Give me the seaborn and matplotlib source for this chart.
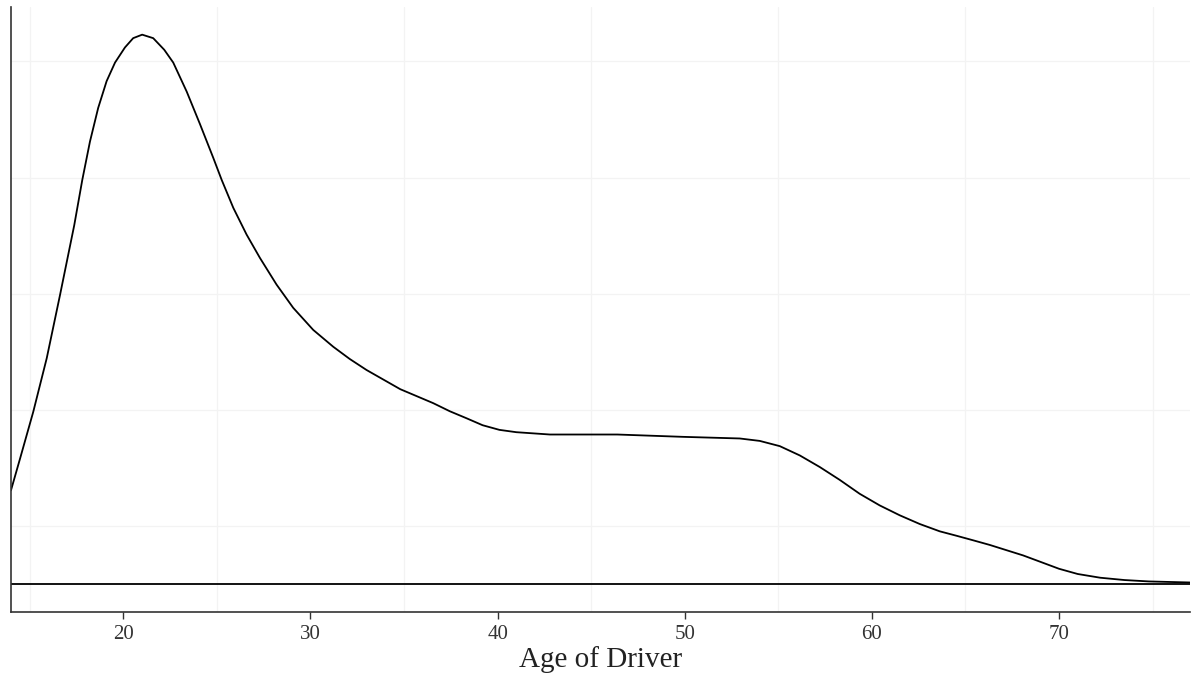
import numpy as np
import pandas as pd
import matplotlib.pyplot as plt
from matplotlib.ticker import MultipleLocator, NullFormatter
import seaborn as sns

# Density of driver age
age = [14.0, 14.48, 15.19, 15.91, 16.62, 17.38, 17.81, 18.22, 18.66, 19.11,
       19.56, 20.09, 20.53, 21.01, 21.6, 22.19, 22.67, 23.39, 24.1, 24.81,
       25.26, 25.88, 26.59, 27.3, 28.19, 29.08, 30.15, 31.22, 32.1, 33.0,
       34.8, 36.56, 37.45, 38.34, 39.2, 40.1, 41.0, 42.8, 46.4, 49.9,
       52.94, 54.01, 55.08, 56.15, 57.22, 58.28, 59.35, 60.42, 61.49, 62.56,
       63.63, 64.5, 65.41, 66.3, 67.19, 68.08, 69.0, 70.0, 71.0, 72.2,
       73.5, 74.8, 77.0]
density = [0.0081, 0.0108, 0.01485, 0.01946, 0.0249, 0.0309, 0.0348, 0.0381, 0.0410, 0.0433,
           0.0449, 0.0462, 0.0470, 0.0473, 0.0470, 0.0460, 0.0449, 0.0424, 0.0396, 0.0367,
           0.0348, 0.0324, 0.0301, 0.0281, 0.0258, 0.0238, 0.0219, 0.02045, 0.0194, 0.01845,
           0.0168, 0.0156, 0.0149, 0.0143, 0.0137, 0.0133, 0.0131, 0.0129, 0.0129, 0.0127,
           0.01256, 0.01235, 0.0119, 0.0111, 0.0101, 0.0090, 0.0078, 0.0068, 0.00595, 0.0052,
           0.00457, 0.0042, 0.0038, 0.0034, 0.00295, 0.0025, 0.00195, 0.00135, 0.0009, 0.00058,
           0.00038, 0.00026, 0.00017]

df = pd.DataFrame({'age': age, 'density': density})

sns.set_theme(style='white')
plt.rcParams['font.family'] = ['Liberation Serif', 'DejaVu Serif']

fig = plt.figure(figsize=(11.93, 6.77), dpi=100)
ax = fig.add_axes([0.0092, 0.096, 0.9883, 0.894])

sns.lineplot(data=df, x='age', y='density', color='black', linewidth=1.3, ax=ax)
ax.axhline(0, color='black', linewidth=1.3)

ax.set_xlim(14.0, 77.0)
ax.set_ylim(-0.00237, 0.0497)

# faint gridlines only at the minor positions
ax.xaxis.set_major_locator(MultipleLocator(10))
ax.xaxis.set_minor_locator(MultipleLocator(10, offset=5))
ax.yaxis.set_major_locator(MultipleLocator(0.01))
ax.yaxis.set_minor_locator(MultipleLocator(0.01, offset=0.005))
ax.xaxis.set_minor_formatter(NullFormatter())
ax.set_yticklabels([])
ax.grid(which='minor', color='#f3f3f3', linewidth=0.9)
ax.grid(which='major', visible=False)

ax.tick_params(axis='x', which='major', bottom=True, length=5, width=1, color='#333333',
               labelsize=15, labelcolor='#333333', pad=4)
ax.tick_params(axis='x', which='minor', bottom=False)
ax.tick_params(axis='y', which='both', left=False)

for side in ['top', 'right']:
    ax.spines[side].set_visible(False)
for side in ['left', 'bottom']:
    ax.spines[side].set_color('#333333')
    ax.spines[side].set_linewidth(1.2)

ax.set_xlabel('Age of Driver', fontsize=21, color='#222222', labelpad=2)
ax.set_ylabel('')

fig.savefig('out.png', dpi=100)
